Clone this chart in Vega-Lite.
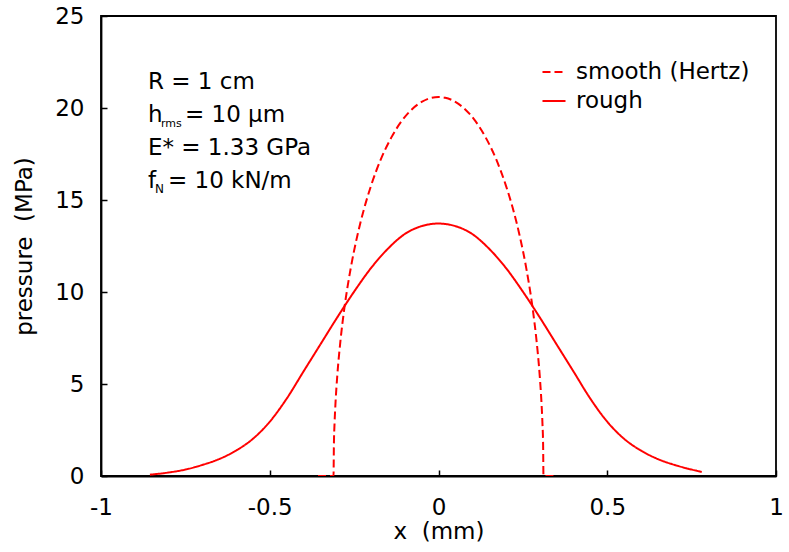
{
  "$schema": "https://vega.github.io/schema/vega-lite/v6.json",
  "width": 675,
  "height": 460,
  "autosize": {"type": "none"},
  "padding": {"left": 101, "top": 16, "right": 13, "bottom": 76},
  "background": "white",
  "config": {
    "font": "DejaVu Sans",
    "view": {"stroke": "black", "strokeWidth": 1.8},
    "axis": {
      "domainColor": "black", "domainWidth": 1.8,
      "tickColor": "black", "tickWidth": 1.5,
      "labelFont": "DejaVu Sans", "labelFontSize": 23, "labelColor": "black",
      "titleFont": "DejaVu Sans", "titleFontSize": 23, "titleFontWeight": "normal", "titleColor": "black",
      "grid": false
    }
  },
  "datasets": {
    "curves": [
      {"series": "smooth (Hertz)", "x": -0.357, "p": 0},
      {"series": "smooth (Hertz)", "x": -0.311, "p": 0},
      {"series": "smooth (Hertz)", "x": -0.31, "p": 1.65},
      {"series": "smooth (Hertz)", "x": -0.308, "p": 2.85},
      {"series": "smooth (Hertz)", "x": -0.305, "p": 4.03},
      {"series": "smooth (Hertz)", "x": -0.3, "p": 5.43},
      {"series": "smooth (Hertz)", "x": -0.29, "p": 7.44},
      {"series": "smooth (Hertz)", "x": -0.28, "p": 8.97},
      {"series": "smooth (Hertz)", "x": -0.26, "p": 11.3},
      {"series": "smooth (Hertz)", "x": -0.24, "p": 13.1},
      {"series": "smooth (Hertz)", "x": -0.22, "p": 14.56},
      {"series": "smooth (Hertz)", "x": -0.2, "p": 15.77},
      {"series": "smooth (Hertz)", "x": -0.17, "p": 17.25},
      {"series": "smooth (Hertz)", "x": -0.14, "p": 18.39},
      {"series": "smooth (Hertz)", "x": -0.11, "p": 19.27},
      {"series": "smooth (Hertz)", "x": -0.08, "p": 19.91},
      {"series": "smooth (Hertz)", "x": -0.05, "p": 20.33},
      {"series": "smooth (Hertz)", "x": -0.02, "p": 20.56},
      {"series": "smooth (Hertz)", "x": 0, "p": 20.6},
      {"series": "smooth (Hertz)", "x": 0.02, "p": 20.56},
      {"series": "smooth (Hertz)", "x": 0.05, "p": 20.33},
      {"series": "smooth (Hertz)", "x": 0.08, "p": 19.91},
      {"series": "smooth (Hertz)", "x": 0.11, "p": 19.27},
      {"series": "smooth (Hertz)", "x": 0.14, "p": 18.39},
      {"series": "smooth (Hertz)", "x": 0.17, "p": 17.25},
      {"series": "smooth (Hertz)", "x": 0.2, "p": 15.77},
      {"series": "smooth (Hertz)", "x": 0.22, "p": 14.56},
      {"series": "smooth (Hertz)", "x": 0.24, "p": 13.1},
      {"series": "smooth (Hertz)", "x": 0.26, "p": 11.3},
      {"series": "smooth (Hertz)", "x": 0.28, "p": 8.97},
      {"series": "smooth (Hertz)", "x": 0.29, "p": 7.44},
      {"series": "smooth (Hertz)", "x": 0.3, "p": 5.43},
      {"series": "smooth (Hertz)", "x": 0.305, "p": 4.03},
      {"series": "smooth (Hertz)", "x": 0.308, "p": 2.85},
      {"series": "smooth (Hertz)", "x": 0.31, "p": 1.65},
      {"series": "smooth (Hertz)", "x": 0.311, "p": 0},
      {"series": "smooth (Hertz)", "x": 0.35, "p": 0},
      {"series": "rough", "x": -0.855, "p": 0.07},
      {"series": "rough", "x": -0.8, "p": 0.19},
      {"series": "rough", "x": -0.75, "p": 0.35},
      {"series": "rough", "x": -0.7, "p": 0.6},
      {"series": "rough", "x": -0.65, "p": 0.92},
      {"series": "rough", "x": -0.6, "p": 1.38},
      {"series": "rough", "x": -0.55, "p": 2.02},
      {"series": "rough", "x": -0.5, "p": 2.95},
      {"series": "rough", "x": -0.45, "p": 4.2},
      {"series": "rough", "x": -0.4, "p": 5.68},
      {"series": "rough", "x": -0.35, "p": 7.15},
      {"series": "rough", "x": -0.3, "p": 8.62},
      {"series": "rough", "x": -0.25, "p": 10.02},
      {"series": "rough", "x": -0.2, "p": 11.3},
      {"series": "rough", "x": -0.15, "p": 12.35},
      {"series": "rough", "x": -0.1, "p": 13.15},
      {"series": "rough", "x": -0.05, "p": 13.58},
      {"series": "rough", "x": 0, "p": 13.72},
      {"series": "rough", "x": 0.05, "p": 13.58},
      {"series": "rough", "x": 0.1, "p": 13.15},
      {"series": "rough", "x": 0.15, "p": 12.35},
      {"series": "rough", "x": 0.2, "p": 11.3},
      {"series": "rough", "x": 0.25, "p": 10.02},
      {"series": "rough", "x": 0.3, "p": 8.62},
      {"series": "rough", "x": 0.35, "p": 7.15},
      {"series": "rough", "x": 0.4, "p": 5.68},
      {"series": "rough", "x": 0.45, "p": 4.2},
      {"series": "rough", "x": 0.5, "p": 2.95},
      {"series": "rough", "x": 0.55, "p": 2.02},
      {"series": "rough", "x": 0.6, "p": 1.38},
      {"series": "rough", "x": 0.65, "p": 0.92},
      {"series": "rough", "x": 0.7, "p": 0.6},
      {"series": "rough", "x": 0.75, "p": 0.35},
      {"series": "rough", "x": 0.78, "p": 0.22}
    ],
    "notes": [
      {"k": "main", "t": "R = 1 cm", "x": -0.861, "y": 21.03},
      {"k": "main", "t": "h", "x": -0.861, "y": 19.24},
      {"k": "main", "t": "E* = 1.33 GPa", "x": -0.861, "y": 17.45},
      {"k": "main", "t": "f", "x": -0.861, "y": 15.65},
      {"k": "subh", "t": "rms", "x": -0.861, "y": 19.24},
      {"k": "subf", "t": "N", "x": -0.861, "y": 15.65},
      {"k": "resth", "t": "= 10 μm", "x": -0.861, "y": 19.24},
      {"k": "restf", "t": "= 10 kN/m", "x": -0.861, "y": 15.65}
    ]
  },
  "layer": [
    {
      "data": {"name": "curves"},
      "mark": {"type": "line", "color": "#ff0000", "strokeWidth": 2, "interpolate": "monotone", "clip": true},
      "encoding": {
        "x": {
          "field": "x", "type": "quantitative",
          "scale": {"domain": [-1, 1], "nice": false, "zero": false},
          "axis": {
            "values": [-1, -0.5, 0, 0.5, 1],
            "format": "~g",
            "title": "x\u00a0 (mm)",
            "titlePadding": 1,
            "tickSize": -6,
            "labelPadding": 26,
            "labelExpr": "replace(datum.label, '\u2212', '-')",
            "labelFlush": false
          }
        },
        "y": {
          "field": "p", "type": "quantitative",
          "scale": {"domain": [0, 25], "nice": false},
          "axis": {
            "values": [0, 5, 10, 15, 20, 25],
            "title": "pressure\u00a0 (MPa)",
            "titlePadding": 18,
            "tickSize": -6,
            "labelPadding": 23
          }
        },
        "strokeDash": {
          "field": "series", "type": "nominal",
          "scale": {"domain": ["smooth (Hertz)", "rough"], "range": [[8, 4], [1, 0]]},
          "legend": {
            "title": null,
            "orient": "none",
            "legendX": 440,
            "legendY": 43,
            "padding": 0,
            "symbolType": "stroke",
            "symbolStrokeColor": "#ff0000",
            "symbolStrokeWidth": 2,
            "symbolSize": 530,
            "labelFont": "DejaVu Sans",
            "labelFontSize": 23,
            "labelColor": "black",
            "labelOffset": 9,
            "labelLimit": 400,
            "rowPadding": 4
          }
        }
      }
    },
    {
      "data": {"name": "notes"},
      "transform": [{"filter": "datum.k == 'main'"}],
      "mark": {"type": "text", "align": "left", "baseline": "alphabetic", "fontSize": 23, "font": "DejaVu Sans", "color": "black"},
      "encoding": {
        "x": {"field": "x", "type": "quantitative"},
        "y": {"field": "y", "type": "quantitative"},
        "text": {"field": "t"}
      }
    },
    {
      "data": {"name": "notes"},
      "transform": [{"filter": "datum.k == 'subh'"}],
      "mark": {"type": "text", "align": "left", "baseline": "alphabetic", "fontSize": 11, "font": "DejaVu Sans", "color": "black", "dx": 13, "dy": 5},
      "encoding": {
        "x": {"field": "x", "type": "quantitative"},
        "y": {"field": "y", "type": "quantitative"},
        "text": {"field": "t"}
      }
    },
    {
      "data": {"name": "notes"},
      "transform": [{"filter": "datum.k == 'subf'"}],
      "mark": {"type": "text", "align": "left", "baseline": "alphabetic", "fontSize": 12, "font": "DejaVu Sans", "color": "black", "dx": 7, "dy": 5},
      "encoding": {
        "x": {"field": "x", "type": "quantitative"},
        "y": {"field": "y", "type": "quantitative"},
        "text": {"field": "t"}
      }
    },
    {
      "data": {"name": "notes"},
      "transform": [{"filter": "datum.k == 'resth'"}],
      "mark": {"type": "text", "align": "left", "baseline": "alphabetic", "fontSize": 23, "font": "DejaVu Sans", "color": "black", "dx": 37},
      "encoding": {
        "x": {"field": "x", "type": "quantitative"},
        "y": {"field": "y", "type": "quantitative"},
        "text": {"field": "t"}
      }
    },
    {
      "data": {"name": "notes"},
      "transform": [{"filter": "datum.k == 'restf'"}],
      "mark": {"type": "text", "align": "left", "baseline": "alphabetic", "fontSize": 23, "font": "DejaVu Sans", "color": "black", "dx": 20},
      "encoding": {
        "x": {"field": "x", "type": "quantitative"},
        "y": {"field": "y", "type": "quantitative"},
        "text": {"field": "t"}
      }
    }
  ]
}
